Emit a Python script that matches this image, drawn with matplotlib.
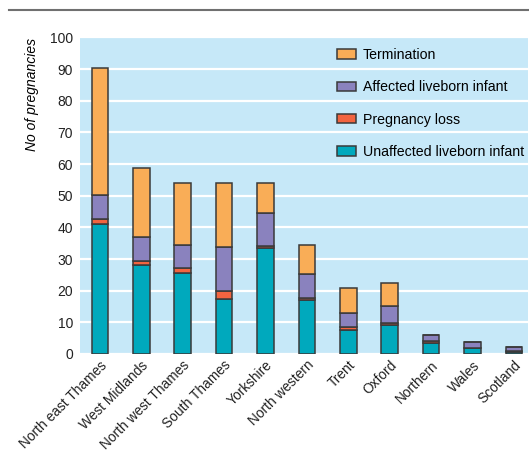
import numpy as np
import matplotlib
matplotlib.use('Agg')
import matplotlib.pyplot as plt
from matplotlib.lines import Line2D

plt.rcParams['font.family'] = ['Liberation Sans', 'DejaVu Sans']

# Данные
regions = ['North east Thames', 'West Midlands', 'North west Thames', 'South Thames',
           'Yorkshire', 'North western', 'Trent', 'Oxford', 'Northern', 'Wales', 'Scotland']
unaffected = [41, 28, 25.7, 17.5, 33.5, 16.9, 7.6, 9.2, 3.6, 1.8, 0.7]
loss = [1.5, 1.3, 1.4, 2.4, 0.7, 0.8, 0.8, 0.6, 0.6, 0.2, 0.1]
affected = [7.6, 7.6, 7.3, 14, 10.4, 7.6, 4.6, 5.5, 1.8, 1.9, 1.4]
termination = [40.3, 21.9, 19.5, 20, 9.3, 9.2, 8.0, 7.1, 0, 0, 0]

series = [
    ('Unaffected liveborn infant', unaffected, '#00a9bd'),
    ('Pregnancy loss', loss, '#f26440'),
    ('Affected liveborn infant', affected, '#8a82be'),
    ('Termination', termination, '#f9ad57'),
]

fig = plt.figure(figsize=(5.29, 4.51), dpi=100)
ax = fig.add_axes([0.1512, 0.2151, 0.8468, 0.7018])
ax.set_facecolor('#c6e8f8')

x = np.arange(len(regions))
bottom = np.zeros(len(regions))
handles = []
for label, vals, color in series:
    vals = np.array(vals, dtype=float)
    b = ax.bar(x, vals, width=0.4, bottom=bottom, color=color,
               edgecolor='#3a3a3a', linewidth=1.1, label=label, zorder=3)
    handles.append(b)
    bottom += vals

ax.set_ylim(0, 100)
ax.set_xlim(-0.48, 10.34)
ax.set_yticks(np.arange(0, 101, 10))
ax.yaxis.grid(True, color='white', linewidth=1.6, zorder=1)
ax.set_axisbelow(True)
for s in ax.spines.values():
    s.set_visible(False)
ax.tick_params(axis='both', length=0, labelsize=10, colors='#222222')
ax.tick_params(axis='y', pad=5)
ax.set_xticks(x)
ax.set_xticklabels(regions, rotation=45, ha='right', rotation_mode='anchor', fontsize=9.9)
ax.tick_params(axis='x', pad=3)
ax.set_ylabel('No of pregnancies', style='italic', fontsize=10, loc='top', labelpad=8)

leg = ax.legend(handles[::-1], [s[0] for s in series][::-1], loc='upper left',
                bbox_to_anchor=(0.562, 0.985), frameon=False, fontsize=10.2,
                handlelength=1.3, handleheight=0.65, handletextpad=0.5,
                labelspacing=1.3, borderaxespad=0)

# линия сверху
fig.add_artist(Line2D([0.017, 1.0], [0.978, 0.978], color='#707070', linewidth=1.5))

fig.savefig('out.png', dpi=100)
